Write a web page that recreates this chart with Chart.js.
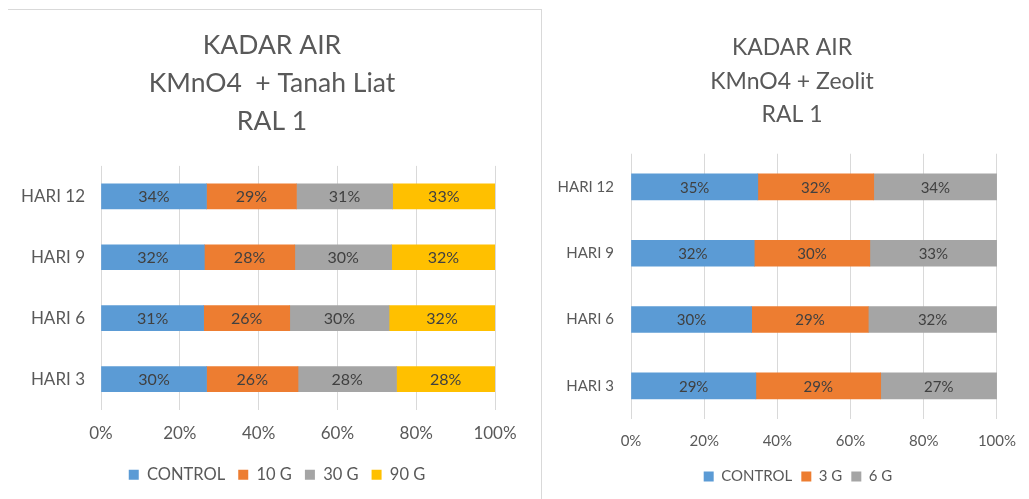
<!DOCTYPE html>
<html>
<head>
<meta charset="utf-8">
<script src="https://cdn.jsdelivr.net/npm/chart.js@4"></script>
<style>
  html, body { margin: 0; padding: 0; background: #fff; }
  #left { position: absolute; left: 0; top: 0; width: 541px; height: 499px; }
  #leftFrame { position: absolute; left: 8px; top: 9px; width: 533px; height: 490px;
    border-top: 1px solid #d9d9d9; border-right: 1px solid #d9d9d9; pointer-events: none; }
  #right { position: absolute; left: 543px; top: 0; width: 486px; height: 499px; }
</style>
</head>
<body>
<div id="left"><canvas id="c1"></canvas></div>
<div id="leftFrame"></div>
<div id="right"><canvas id="c2"></canvas></div>
<script>
// categories (top to bottom)
const days = ["HARI 12", "HARI 9", "HARI 6", "HARI 3"];

// KMnO4 + Tanah Liat
const tlControl = [34, 32, 31, 30];
const tl10g = [29, 28, 26, 26];
const tl30g = [31, 30, 30, 28];
const tl90g = [33, 32, 32, 28];

// KMnO4 + Zeolit
const zeControl = [35, 32, 30, 29];
const ze3g = [32, 30, 29, 29];
const ze6g = [34, 33, 32, 27];

const xTicks = ["0%", "20%", "40%", "60%", "80%", "100%"];

const BLUE = "#5B9BD5", ORANGE = "#ED7D31", GRAY = "#A5A5A5", GOLD = "#FFC000";
const FONT = "Lato, 'Open Sans', sans-serif";
const TXT = "#595959";

// 100% stacked: turn raw values into shares of each row total
function toShares(series) {
  return series.map(s => s.map((v, i) => {
    let tot = 0;
    series.forEach(o => tot += o[i]);
    return v / tot * 100;
  }));
}

// draws raw value labels inside each bar segment
const valueLabels = {
  id: "valueLabels",
  afterDatasetsDraw(chart, args, opts) {
    const ctx = chart.ctx;
    ctx.save();
    ctx.font = opts.size + "px " + FONT;
    ctx.fillStyle = "#404040";
    ctx.textAlign = "center";
    ctx.textBaseline = "middle";
    chart.data.datasets.forEach((ds, di) => {
      chart.getDatasetMeta(di).data.forEach((bar, i) => {
        ctx.fillText(ds.raw[i] + "%", (bar.x + bar.base) / 2, bar.y + 1);
      });
    });
    ctx.restore();
  }
};

// centre title and legend over the whole chart box, not just the padded area
const boxSpan = {
  id: "boxSpan",
  afterLayout(chart, args, opts) {
    const set = (b, s) => { if (b) { b.left = s[0]; b.right = s[1]; b.width = s[1] - s[0]; } };
    set(chart.titleBlock, opts.title);
    set(chart.legend, opts.legend);
  }
};

function makeChart(id, names, raws, colors, opt) {
  const shares = toShares(raws);
  return new Chart(document.getElementById(id), {
    type: "bar",
    data: {
      labels: days,
      datasets: names.map((n, k) => ({
        label: n,
        data: shares[k],
        raw: raws[k],
        backgroundColor: colors[k],
        barThickness: opt.bar
      }))
    },
    options: {
      indexAxis: "y",
      responsive: true,
      maintainAspectRatio: false,
      animation: false,
      layout: { padding: opt.pad },
      scales: {
        x: {
          stacked: true, min: 0, max: 100,
          afterFit: s => { s.height = opt.xh; },
          ticks: {
            stepSize: 20, color: TXT, padding: opt.tickPad,
            font: { family: FONT, size: opt.tick },
            callback: (v, i) => xTicks[i]
          },
          grid: { color: "#d9d9d9", drawTicks: false },
          border: { display: false }
        },
        y: {
          stacked: true,
          afterFit: s => { s.width = opt.yw; },
          ticks: { color: TXT, padding: opt.yPad, font: { family: FONT, size: opt.tick } },
          grid: { display: false },
          border: { display: false }
        }
      },
      plugins: {
        tooltip: { enabled: false },
        valueLabels: { size: opt.val },
        boxSpan: opt.span,
        title: {
          display: true,
          text: opt.title,
          color: TXT,
          font: { family: FONT, size: opt.titleSize, weight: "normal", lineHeight: opt.titleLH },
          padding: { top: 0, bottom: opt.titleGap }
        },
        legend: {
          position: "bottom",
          labels: {
            color: TXT, boxWidth: 10, boxHeight: 10, padding: opt.legPad,
            font: { family: FONT, size: opt.leg }
          }
        }
      }
    },
    plugins: [valueLabels, boxSpan]
  });
}

makeChart("c1", ["CONTROL", "10 G", "30 G", "90 G"],
  [tlControl, tl10g, tl30g, tl90g], [BLUE, ORANGE, GRAY, GOLD], {
    title: ["KADAR AIR", "KMnO4  + Tanah Liat", "RAL 1"],
    titleSize: 26.5, titleLH: 1.42, titleGap: 26,
    span: { title: [3, 541], legend: [13, 541] },
    pad: { top: 27, left: 8, right: 46, bottom: 6 },
    yw: 93, yPad: 8, xh: 44, tickPad: 14, bar: 25,
    tick: 17, val: 16, leg: 16.5, legPad: 13
  });

makeChart("c2", ["CONTROL", "3 G", "6 G"],
  [zeControl, ze3g, ze6g], [BLUE, ORANGE, GRAY], {
    title: ["KADAR AIR", "KMnO4 + Zeolit", "RAL 1"],
    titleSize: 23, titleLH: 1.46, titleGap: 22,
    span: { title: [12, 486], legend: [24, 486] },
    pad: { top: 31, left: 6, right: 30, bottom: 5 },
    yw: 82, yPad: 9, xh: 41, tickPad: 13, bar: 26,
    tick: 15, val: 15, leg: 15, legPad: 9
  });
</script>
</body>
</html>
